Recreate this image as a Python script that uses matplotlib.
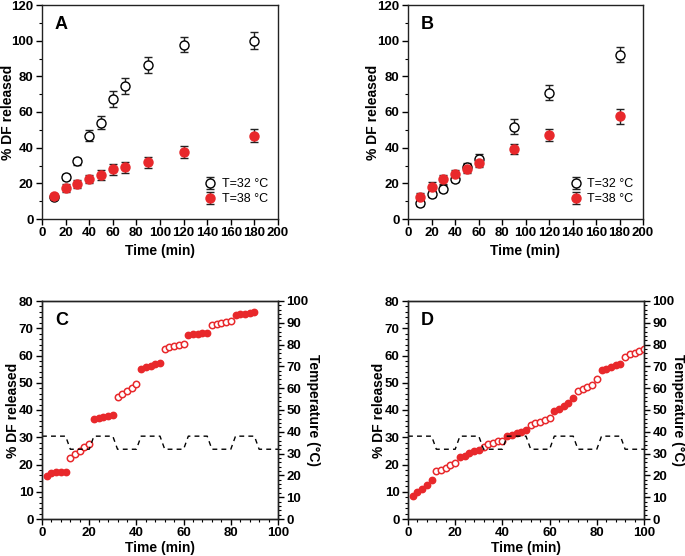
import matplotlib
matplotlib.use("Agg")
import matplotlib.pyplot as plt
from matplotlib.ticker import MultipleLocator

plt.rcParams['font.family'] = ['Liberation Sans', 'DejaVu Sans']
plt.rcParams['font.weight'] = 'bold'

RED = '#e8282b'

# ---- Panel A data ----
a_time = [10, 20, 30, 40, 50, 60, 70, 90, 120, 180]
a_32 = [12.3, 23.5, 32.3, 46.8, 54.1, 67.4, 74.5, 86.6, 97.6, 100.0]
a_32_err = [1.0, 1.5, 2.0, 3.3, 3.8, 4.4, 4.5, 4.5, 4.2, 4.7]
a_38 = [13.1, 17.4, 19.6, 22.4, 24.8, 27.8, 28.9, 31.7, 37.5, 46.7]
a_38_err = [1.0, 2.0, 2.2, 2.4, 2.7, 3.0, 3.0, 3.0, 3.5, 3.8]

# ---- Panel B data ----
b_time = [10, 20, 30, 40, 50, 60, 90, 120, 180]
b_32 = [8.8, 13.8, 17.0, 22.2, 29.3, 33.4, 51.7, 70.9, 92.2]
b_32_err = [1.6, 1.5, 2.0, 1.5, 2.3, 3.2, 4.3, 4.0, 4.3]
b_38 = [12.3, 18.1, 22.4, 25.2, 28.2, 31.5, 39.2, 47.2, 57.5]
b_38_err = [2.2, 2.5, 2.5, 2.0, 2.5, 2.5, 3.0, 3.5, 4.0]

# ---- Temperature profile (C, D) ----
temp_time = [0, 10, 12, 20, 22, 30, 32, 40, 42, 50, 52, 60, 62, 70, 72, 80, 82, 90, 92, 100]
temp_val = [38, 38, 32, 32, 38, 38, 32, 32, 38, 38, 32, 32, 38, 38, 32, 32, 38, 38, 32, 32]

# ---- Panel C data ----
c_time_38 = [2, 4, 6, 8, 10, 22, 24, 26, 28, 30, 42, 44, 46, 48, 50,
             62, 64, 66, 68, 70, 82, 84, 86, 88, 90]
c_rel_38 = [15.8, 16.9, 17.1, 17.2, 17.4, 36.6, 37.0, 37.4, 37.8, 38.1,
            55.2, 55.8, 56.2, 56.9, 57.4, 67.6, 67.8, 68.0, 68.2, 68.4,
            74.9, 75.1, 75.4, 75.6, 75.8]
c_time_32 = [12, 14, 16, 18, 20, 32, 34, 36, 38, 40, 52, 54, 56, 58, 60,
             72, 74, 76, 78, 80]
c_rel_32 = [22.4, 23.7, 24.9, 26.5, 27.6, 44.8, 45.9, 46.9, 48.1, 49.7,
            62.3, 63.0, 63.5, 64.0, 64.2, 71.1, 71.6, 71.9, 72.3, 72.6]

# ---- Panel D data ----
d_time_38 = [2, 4, 6, 8, 10, 22, 24, 26, 28, 30, 42, 44, 46, 48, 50,
             62, 64, 66, 68, 70, 82, 84, 86, 88, 90]
d_rel_38 = [8.3, 9.9, 11.1, 12.5, 14.2, 22.7, 23.3, 24.2, 24.8, 25.2,
            30.4, 31.0, 31.6, 32.1, 32.7, 39.8, 40.4, 41.6, 42.7, 44.3,
            54.5, 55.1, 55.8, 56.4, 57.0]
d_time_32 = [12, 14, 16, 18, 20, 32, 34, 36, 38, 40, 52, 54, 56, 58, 60,
             72, 74, 76, 78, 80, 92, 94, 96, 98, 100]
d_rel_32 = [17.6, 18.1, 18.7, 19.7, 20.6, 26.6, 27.5, 28.0, 28.5, 28.8,
            34.6, 35.1, 35.5, 36.2, 37.1, 46.9, 47.8, 48.5, 49.2, 51.2,
            59.4, 60.5, 61.1, 61.7, 62.4]

W, H = 685, 556
fig = plt.figure(figsize=(W / 100, H / 100), dpi=100)


def axes_px(l, r, t, b):
    return fig.add_axes([l / W, 1 - b / H, (r - l) / W, (b - t) / H])


TICK_FS = 9.5
LAB_FS = 10


def style_axes(ax):
    for s in ax.spines.values():
        s.set_linewidth(1.0)
        s.set_color('#222222')
    ax.tick_params(direction='out', length=4, width=1, labelsize=TICK_FS, pad=2)
    ax.tick_params(which='minor', direction='out', length=2, width=0.8)
    for lab in ax.get_xticklabels() + ax.get_yticklabels():
        lab.set_fontweight('bold')


def top_panel(ax, t, y32, e32, y38, e38, letter, legx, ylab_x):
    ax.errorbar(t, y32, yerr=e32, fmt='o', mfc='white', mec='black', mew=1.0,
                ms=6.5, ecolor='#222222', elinewidth=1.0, capsize=3, capthick=1.0,
                label='T=32 \u00b0C', zorder=3)
    ax.errorbar(t, y38, yerr=e38, fmt='o', mfc=RED, mec=RED, ms=6.5,
                ecolor='#222222', elinewidth=1.0, capsize=3, capthick=1.0,
                label='T=38 \u00b0C', zorder=3)
    ax.set_xlim(0, 200)
    ax.set_ylim(0, 120)
    ax.xaxis.set_major_locator(MultipleLocator(20))
    ax.yaxis.set_major_locator(MultipleLocator(20))
    ax.yaxis.set_minor_locator(MultipleLocator(10))
    ax.set_xlabel('Time (min)', fontsize=LAB_FS, fontweight='bold', labelpad=3)
    ax.set_ylabel('% DF released', fontsize=LAB_FS, fontweight='bold', va='center')
    ax.yaxis.set_label_coords(ylab_x, 0.5)
    ax.text(0.055, 0.95, letter, transform=ax.transAxes, fontsize=13,
            fontweight='bold', va='top', ha='left')
    style_axes(ax)
    leg = ax.legend(loc='lower left', bbox_to_anchor=(legx, 0.04), frameon=False,
                    fontsize=9, handletextpad=0.3, labelspacing=0.25,
                    handlelength=1.2, borderaxespad=0)
    for txt in leg.get_texts():
        txt.set_fontweight('normal')


def bottom_panel(ax, t38, r38, t32, r32, letter, ylab_x, tlab_x):
    ax.plot(t38, r38, 'o', color=RED, mfc=RED, mec=RED, ms=4.6, zorder=3)
    ax.plot(t32, r32, 'o', color=RED, mfc='white', mec=RED, mew=1.1, ms=4.6, zorder=3)
    ax.set_xlim(0, 100)
    ax.set_ylim(0, 80)
    ax.xaxis.set_major_locator(MultipleLocator(20))
    ax.xaxis.set_minor_locator(MultipleLocator(4))
    ax.yaxis.set_major_locator(MultipleLocator(10))
    ax.yaxis.set_minor_locator(MultipleLocator(2))
    ax.set_xlabel('Time (min)', fontsize=LAB_FS, fontweight='bold', labelpad=1.5)
    ax.set_ylabel('% DF released', fontsize=LAB_FS, fontweight='bold', va='center')
    ax.yaxis.set_label_coords(ylab_x, 0.5)
    ax.text(0.055, 0.95, letter, transform=ax.transAxes, fontsize=13,
            fontweight='bold', va='top', ha='left')
    style_axes(ax)
    ax2 = ax.twinx()
    ax2.plot(temp_time, temp_val, '--', color='black', lw=1.0, dashes=(3.5, 3))
    ax2.set_ylim(0, 100)
    ax2.yaxis.set_major_locator(MultipleLocator(10))
    ax2.yaxis.set_minor_locator(MultipleLocator(2))
    ax2.set_ylabel('Temperature (\u00b0C)', fontsize=LAB_FS, fontweight='bold',
                   rotation=270, va='center', ha='center')
    ax2.yaxis.set_label_coords(tlab_x, 0.5)
    style_axes(ax2)
    return ax2


axA = axes_px(42, 278, 5, 219)
top_panel(axA, a_time, a_32, a_32_err, a_38, a_38_err, 'A', 0.66, -0.146)
axB = axes_px(408, 643, 5, 219)
top_panel(axB, b_time, b_32, b_32_err, b_38, b_38_err, 'B', 0.66, -0.151)
axC = axes_px(42, 278, 301, 519)
bottom_panel(axC, c_time_38, c_rel_38, c_time_32, c_rel_32, 'C', -0.122, 1.150)
axD = axes_px(408, 644, 301, 519)
bottom_panel(axD, d_time_38, d_rel_38, d_time_32, d_rel_32, 'D', -0.124, 1.146)

fig.savefig('out.png', dpi=100)
